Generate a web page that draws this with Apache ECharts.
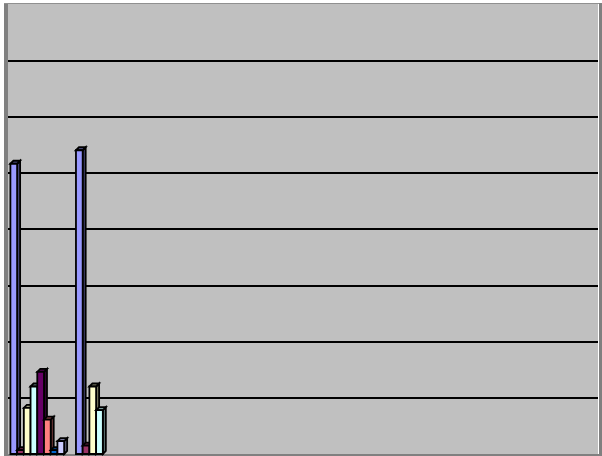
<!DOCTYPE html>
<html>
<head>
<meta charset="utf-8">
<script src="https://cdn.jsdelivr.net/npm/echarts@6/dist/echarts.min.js"></script>
<style>
  html, body { margin: 0; padding: 0; background: #ffffff; }
  #chart { width: 602px; height: 456px; }
</style>
</head>
<body>
<div id="chart"></div>
<script>
// Nine categories along the floor; only the first two carry data.
const categories = ['1', '2', '3', '4', '5', '6', '7', '8', '9'];

// One array per column series (values per category).
const series1 = [5.16, 5.40, 0, 0, 0, 0, 0, 0, 0];
const series2 = [0.07, 0.15, 0, 0, 0, 0, 0, 0, 0];
const series3 = [0.82, 1.20, 0, 0, 0, 0, 0, 0, 0];
const series4 = [1.20, 0.78, 0, 0, 0, 0, 0, 0, 0];
const series5 = [1.46, 0, 0, 0, 0, 0, 0, 0, 0];
const series6 = [0.61, 0, 0, 0, 0, 0, 0, 0, 0];
const series7 = [0.07, 0, 0, 0, 0, 0, 0, 0, 0];
const series8 = [0.23, 0, 0, 0, 0, 0, 0, 0, 0];

const allSeries = [series1, series2, series3, series4, series5, series6, series7, series8];

// Classic office palette: front, side and top shades of each column.
const fronts = ['#9999FF', '#993366', '#FFFFCC', '#CCFFFF', '#660066', '#FF8080', '#0066CC', '#CCCCFF'];

function shade(hex, f) {
  const n = parseInt(hex.slice(1), 16);
  const r = Math.round(((n >> 16) & 255) * f);
  const g = Math.round(((n >> 8) & 255) * f);
  const b = Math.round((n & 255) * f);
  return 'rgb(' + r + ',' + g + ',' + b + ')';
}

const DEPTH = 3;
const SERIES_COUNT = allSeries.length;

// Draws one extruded column: front face, right side face and top face.
function makeRenderer(idx) {
  const front = fronts[idx];
  const side = shade(front, 0.45);
  const top = shade(front, 0.6);
  return function (params, api) {
    const cat = api.value(0);
    const val = api.value(1);
    if (!val) return null;
    const base = api.coord([cat, 0]);
    const peak = api.coord([cat, val]);
    const catW = api.size([1, 0])[0];
    const bw = catW * 0.1025;
    const x0 = base[0] - (SERIES_COUNT / 2) * bw - 3.5 + idx * bw;
    const x1 = x0 + bw;
    const y0 = base[1];
    const y1 = peak[1];
    const d = DEPTH;
    const edge = { stroke: '#000', lineWidth: 1.8, lineJoin: 'miter' };
    return {
      type: 'group',
      children: [
        {
          type: 'polygon',
          shape: { points: [[x1, y0], [x1 + d, y0 - d], [x1 + d, y1 - d], [x1, y1]] },
          style: Object.assign({ fill: side }, edge)
        },
        {
          type: 'polygon',
          shape: { points: [[x0, y1], [x0 + d, y1 - d], [x1 + d, y1 - d], [x1, y1]] },
          style: Object.assign({ fill: top }, edge)
        },
        {
          type: 'rect',
          shape: { x: x0, y: y1, width: bw, height: y0 - y1 },
          style: Object.assign({ fill: front }, edge)
        }
      ]
    };
  };
}

const chart = echarts.init(document.getElementById('chart'), null, { renderer: 'canvas' });

chart.setOption({
  animation: false,
  backgroundColor: '#ffffff',
  grid: {
    left: 8, right: 4, top: 4, bottom: 2,
    show: true, backgroundColor: '#C0C0C0', borderWidth: 0
  },
  xAxis: {
    type: 'category',
    data: categories,
    axisLine: { show: false },
    axisTick: { show: false },
    axisLabel: { show: false },
    splitLine: { show: false }
  },
  yAxis: {
    type: 'value',
    min: 0, max: 8, interval: 1,
    axisLine: { show: false },
    axisTick: { show: false },
    axisLabel: { show: false },
    splitLine: {
      show: true, showMinLine: false, showMaxLine: false,
      lineStyle: { color: '#000000', width: 2 }
    }
  },
  graphic: [
    // side wall, top edge, right edge and floor of the plot box
    { type: 'rect', shape: { x: 4, y: 3, width: 4, height: 451 }, style: { fill: '#808080' } },
    { type: 'rect', shape: { x: 4, y: 3, width: 598, height: 1 }, style: { fill: '#909090' } },
    { type: 'rect', shape: { x: 599, y: 3, width: 3, height: 453 }, style: { fill: '#808080' } },
    { type: 'rect', shape: { x: 4, y: 454, width: 598, height: 2 }, style: { fill: '#808080' } }
  ],
  series: allSeries.map(function (vals, i) {
    return {
      type: 'custom',
      name: 'S' + (i + 1),
      renderItem: makeRenderer(i),
      data: vals.map(function (v, c) { return [c, v]; }),
      z: 2 + i
    };
  })
});
</script>
</body>
</html>
